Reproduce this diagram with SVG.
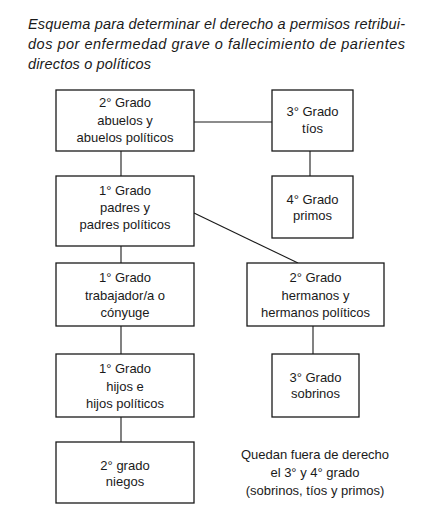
<svg xmlns="http://www.w3.org/2000/svg" width="444" height="524" viewBox="0 0 444 524">
<style>
.bg{fill:#ffffff}
.box{fill:#ffffff;stroke:#1a1a1a;stroke-width:1.3}
.ln{stroke:#1a1a1a;stroke-width:1.1;fill:none}
.t{font-family:"Liberation Sans",Arial,sans-serif;font-size:13px;fill:#1a1a1a;text-anchor:middle}
.ttl{font-family:"Liberation Sans",Arial,sans-serif;font-size:14.5px;font-style:italic;fill:#1a1a1a}
</style>
<rect class="bg" x="0" y="0" width="444" height="524"/>
<g id="title">
<text class="ttl" x="28" y="28.5" textLength="377" lengthAdjust="spacing">Esquema para determinar el derecho a permisos retribui-</text>
<text class="ttl" x="28" y="48.5" textLength="377" lengthAdjust="spacing">dos por enfermedad grave o fallecimiento de parientes</text>
<text class="ttl" x="28" y="68.5" textLength="123" lengthAdjust="spacing">directos o políticos</text>
</g>
<g id="connectors">
<line class="ln" x1="194" y1="122" x2="272" y2="122"/>
<line class="ln" x1="121" y1="151" x2="121" y2="176"/>
<line class="ln" x1="310" y1="151" x2="310" y2="176"/>
<line class="ln" x1="194" y1="213" x2="298" y2="263"/>
<line class="ln" x1="121" y1="246" x2="121" y2="263"/>
<line class="ln" x1="121" y1="326" x2="121" y2="354"/>
<line class="ln" x1="313" y1="326" x2="313" y2="354"/>
<line class="ln" x1="121" y1="417" x2="121" y2="442"/>
</g>
<g id="abuelos">
<rect class="box" x="56" y="90" width="138" height="61"/>
<text class="t" x="125" y="107">2° Grado</text>
<text class="t" x="125" y="124.5">abuelos y</text>
<text class="t" x="125" y="141.5">abuelos políticos</text>
</g>
<g id="tios">
<rect class="box" x="272" y="90" width="81" height="61"/>
<text class="t" x="312.5" y="116">3° Grado</text>
<text class="t" x="312.5" y="132.5">tíos</text>
</g>
<g id="padres">
<rect class="box" x="56" y="176" width="138" height="70"/>
<text class="t" x="125" y="195">1° Grado</text>
<text class="t" x="125" y="212">padres y</text>
<text class="t" x="125" y="229">padres políticos</text>
</g>
<g id="primos">
<rect class="box" x="272" y="176" width="81" height="62"/>
<text class="t" x="312.5" y="203.5">4° Grado</text>
<text class="t" x="312.5" y="220">primos</text>
</g>
<g id="trabajador">
<rect class="box" x="56" y="263" width="138" height="63"/>
<text class="t" x="125" y="282">1° Grado</text>
<text class="t" x="125" y="299.5">trabajador/a o</text>
<text class="t" x="125" y="316.5">cónyuge</text>
</g>
<g id="hermanos">
<rect class="box" x="247" y="263" width="137" height="63"/>
<text class="t" x="315.5" y="282">2° Grado</text>
<text class="t" x="315.5" y="299.5">hermanos y</text>
<text class="t" x="315.5" y="316.5">hermanos políticos</text>
</g>
<g id="hijos">
<rect class="box" x="56" y="354" width="138" height="63"/>
<text class="t" x="125" y="373">1° Grado</text>
<text class="t" x="125" y="390.5">hijos e</text>
<text class="t" x="125" y="407.5">hijos políticos</text>
</g>
<g id="sobrinos">
<rect class="box" x="272" y="354" width="87" height="63"/>
<text class="t" x="315.5" y="381.5">3° Grado</text>
<text class="t" x="315.5" y="398">sobrinos</text>
</g>
<g id="niegos">
<rect class="box" x="56" y="442" width="138" height="61"/>
<text class="t" x="125" y="469.5">2° grado</text>
<text class="t" x="125" y="485.5">niegos</text>
</g>
<g id="nota">
<text class="t" x="315" y="458.5">Quedan fuera de derecho</text>
<text class="t" x="315" y="476.5">el 3° y 4° grado</text>
<text class="t" x="315" y="494.5">(sobrinos, tíos y primos)</text>
</g>
</svg>
